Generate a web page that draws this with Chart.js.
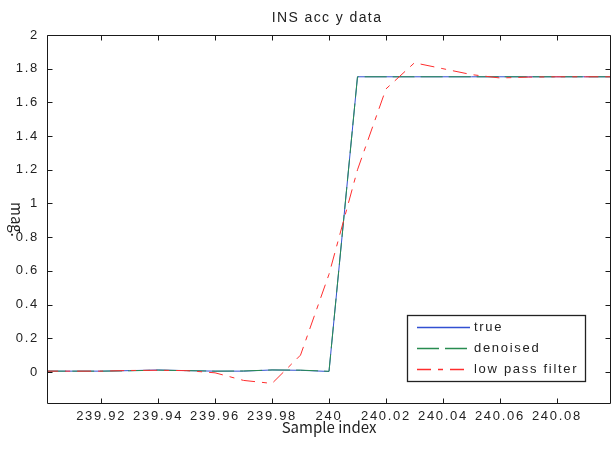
<!DOCTYPE html>
<html>
<head>
<meta charset="utf-8">
<script src="https://cdn.jsdelivr.net/npm/chart.js@4/dist/chart.umd.min.js"></script>
<style>
html,body{margin:0;padding:0;background:#fff;}
#wrap{width:612px;height:462px;}
</style>
</head>
<body>
<div id="wrap"><canvas id="c" width="612" height="462"></canvas></div>
<script>
const sampleIndex = [239.90,239.91,239.92,239.93,239.94,239.95,239.96,239.97,239.98,239.99,240.00,240.01,240.02,240.03,240.04,240.05,240.06,240.07,240.08,240.09,240.10];
const trueVals = [0.005,0.005,0.005,0.008,0.012,0.008,0.005,0.005,0.012,0.010,0.003,1.752,1.752,1.752,1.752,1.752,1.752,1.752,1.752,1.752,1.752];
const denoisedVals = [0.005,0.005,0.005,0.007,0.011,0.008,0.005,0.006,0.012,0.011,0.004,1.752,1.752,1.752,1.752,1.752,1.752,1.752,1.752,1.752,1.752];
const lowPassVals = [0.005,0.005,0.005,0.009,0.010,0.008,-0.005,-0.050,-0.068,0.100,0.580,1.200,1.680,1.835,1.800,1.765,1.745,1.750,1.752,1.752,1.752];
const xTickStep = 0.02;
const yTickStep = 0.2;
const seriesNames = ['true','denoised','low pass filter'];
const chartTitle = 'INS acc y data';

const seriesColors = ['rgb(50,80,210)','rgb(40,140,80)','rgb(255,45,45)'];
const seriesDash = [[], [22,6], [14,7,5,7]];

const toPts = arr => sampleIndex.map((x,i)=>({x:x,y:arr[i]}));
const tickFont = {family:"'Liberation Sans', Arial, sans-serif", size:13};

const framePlugin = {
  id:'frame',
  beforeDraw(chart){ chart.ctx.letterSpacing = '1.7px'; },
  afterDraw(chart){
    const ctx = chart.ctx, a = chart.chartArea;
    const xs = chart.scales.x, ys = chart.scales.y;
    ctx.save();
    ctx.strokeStyle = '#1a1a1a';
    ctx.lineWidth = 1;
    const L = Math.round(a.left)+0.5, R = Math.round(a.right)-0.5, T = Math.round(a.top)+0.5, B = Math.round(a.bottom)-0.5;
    ctx.beginPath();
    ctx.rect(L, T, R-L, B-T);
    ctx.stroke();
    ctx.beginPath();
    const tl = 5;
    xs.ticks.forEach(t=>{
      const px = Math.round(xs.getPixelForValue(t.value))+0.5;
      ctx.moveTo(px,B); ctx.lineTo(px,B-tl);
      ctx.moveTo(px,T); ctx.lineTo(px,T+tl);
    });
    ys.ticks.forEach(t=>{
      const py = Math.round(ys.getPixelForValue(t.value))+0.5;
      ctx.moveTo(L,py); ctx.lineTo(L+tl,py);
      ctx.moveTo(R,py); ctx.lineTo(R-tl,py);
    });
    ctx.stroke();

    // title
    ctx.fillStyle = '#222';
    ctx.letterSpacing = '1.4px';
    ctx.font = "14px 'Liberation Sans', Arial, sans-serif";
    ctx.textAlign = 'center';
    ctx.textBaseline = 'middle';
    ctx.fillText(chartTitle, (a.left+a.right)/2 - 2, 18);

    // axis titles
    ctx.letterSpacing = '0px';
    ctx.font = "15px 'Noto Sans CJK KR', 'Noto Sans', sans-serif";
    ctx.textAlign = 'center';
    ctx.textBaseline = 'alphabetic';
    ctx.fillText('Sample index', (a.left+a.right)/2, 433);
    ctx.save();
    ctx.translate(17, (a.top+a.bottom)/2);
    ctx.rotate(Math.PI/2);
    ctx.textBaseline = 'middle';
    ctx.fillText('mag.', 0, 0);
    ctx.restore();

    // legend
    const bx = 407.5, by = 315.5, bw = 178, bh = 66;
    ctx.fillStyle = '#fff';
    ctx.fillRect(bx, by, bw, bh);
    ctx.strokeStyle = '#222';
    ctx.lineWidth = 1.3;
    ctx.setLineDash([]);
    ctx.strokeRect(bx, by, bw, bh);
    ctx.letterSpacing = '1.7px';
    ctx.font = "13px 'Liberation Sans', Arial, sans-serif";
    ctx.textAlign = 'left';
    ctx.textBaseline = 'middle';
    seriesNames.forEach((name,i)=>{
      const yy = 327.5 + i*21;
      ctx.save();
      ctx.strokeStyle = seriesColors[i];
      ctx.lineWidth = 1.3;
      ctx.setLineDash(seriesDash[i]);
      ctx.beginPath(); ctx.moveTo(417, yy); ctx.lineTo(470, yy); ctx.stroke();
      ctx.restore();
      ctx.fillStyle = '#222';
      ctx.fillText(name, 474, yy);
    });
    ctx.restore();
  }
};

const fmt = v => String(Number(v.toFixed(2)));

new Chart(document.getElementById('c'), {
  type:'line',
  data:{
    datasets:[
      {label:seriesNames[0], data:toPts(trueVals), borderColor:seriesColors[0], borderWidth:1, borderDash:seriesDash[0], pointRadius:0, tension:0, fill:false, order:3},
      {label:seriesNames[1], data:toPts(denoisedVals), borderColor:seriesColors[1], borderWidth:1, borderDash:seriesDash[1], pointRadius:0, tension:0, fill:false, order:2},
      {label:seriesNames[2], data:toPts(lowPassVals), borderColor:seriesColors[2], borderWidth:1, borderDash:seriesDash[2], pointRadius:0, tension:0, fill:false, order:1}
    ]
  },
  options:{
    responsive:false,
    animation:false,
    devicePixelRatio:1,
    layout:{padding:{left:0,right:1,top:35,bottom:0}},
    plugins:{
      legend:{display:false},
      tooltip:{enabled:false},
      title:{display:false}
    },
    scales:{
      x:{type:'linear', min:239.901, max:240.099,
         grid:{display:false, drawTicks:false}, border:{display:false},
         ticks:{stepSize:xTickStep, includeBounds:false, callback:v=>fmt(v), font:tickFont, color:'#222', padding:5, maxRotation:0, autoSkip:false},
         afterFit:s=>{s.height=58;}},
      y:{type:'linear', min:-0.19, max:2,
         grid:{display:false, drawTicks:false}, border:{display:false},
         ticks:{stepSize:yTickStep, includeBounds:false, callback:v=>fmt(v), font:tickFont, color:'#222', padding:8},
         afterFit:s=>{s.width=47;}}
    }
  },
  plugins:[framePlugin]
});
</script>
</body>
</html>
